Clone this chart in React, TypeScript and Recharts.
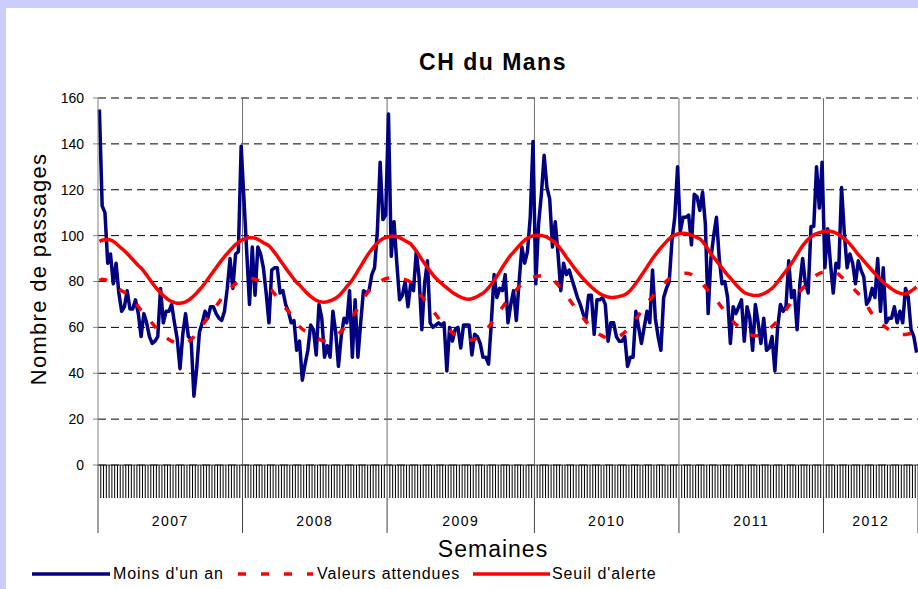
import React from "react";
import { LineChart, Line, XAxis, YAxis, CartesianGrid, ReferenceLine, Legend } from "recharts";

const FONT = "'Liberation Sans', Arial, Helvetica, sans-serif";

const YEARS = ["2007", "2008", "2009", "2010", "2011", "2012"];
const WEEKS_PER_YEAR = [52, 52, 53, 52, 52, 34];
const Y_TICKS = [0, 20, 40, 60, 80, 100, 120, 140, 160];

// Moins d'un an (passages hebdomadaires)
const MOINS_2007 = [155, 113, 110, 88, 92, 79, 88, 75, 67, 69, 76, 68, 68, 72, 66, 56, 66, 62, 56, 53, 54, 56, 77, 62, 67, 67, 70, 62, 55, 42, 57, 66, 56, 55, 30, 42, 58, 62, 67, 64, 69, 69, 66, 64, 63, 67, 77, 90, 77, 92, 93, 139];
const MOINS_2008 = [116, 93, 70, 95, 74, 95, 92, 86, 75, 62, 85, 86, 86, 75, 76, 70, 67, 62, 63, 50, 54, 37, 44, 50, 61, 59, 48, 70, 64, 47, 52, 47, 67, 58, 43, 56, 64, 62, 76, 47, 72, 47, 62, 76, 75, 76, 83, 86, 102, 132, 107, 109];
const MOINS_2009 = [153, 91, 106, 88, 72, 74, 80, 69, 79, 76, 93, 82, 59, 79, 89, 62, 60, 61, 62, 61, 62, 41, 60, 54, 59, 60, 51, 61, 61, 61, 48, 57, 56, 53, 47, 47, 44, 62, 83, 73, 77, 76, 83, 62, 70, 76, 63, 80, 95, 88, 93, 108, 141];
const MOINS_2010 = [79, 105, 118, 135, 121, 116, 95, 106, 92, 76, 88, 83, 85, 81, 77, 73, 70, 66, 63, 74, 74, 57, 72, 72, 73, 70, 54, 62, 62, 56, 54, 54, 56, 43, 47, 47, 67, 60, 53, 60, 67, 62, 85, 64, 56, 50, 73, 77, 80, 98, 108, 130];
const MOINS_2011 = [102, 108, 108, 109, 96, 118, 117, 111, 119, 105, 66, 90, 100, 108, 90, 79, 80, 73, 53, 69, 66, 69, 72, 54, 69, 64, 50, 70, 62, 53, 64, 50, 51, 56, 41, 60, 70, 67, 69, 89, 73, 76, 59, 79, 90, 79, 75, 104, 104, 130, 112, 132];
const MOINS_2012 = [86, 103, 88, 75, 88, 86, 121, 101, 86, 92, 88, 79, 89, 85, 82, 70, 72, 77, 73, 90, 67, 86, 62, 64, 64, 69, 62, 67, 62, 77, 73, 59, 56, 49];

// Valeurs attendues
const ATT_2007 = [80.5, 81, 80.8, 80.2, 79.5, 78.6, 77.7, 76.8, 76, 75.3, 74.5, 73.4, 72, 70.5, 69, 67.5, 66.2, 64.8, 63.3, 61.8, 60.3, 58.8, 57.5, 56.4, 55.5, 54.7, 54, 53.5, 53.1, 52.9, 52.9, 53.2, 53.8, 54.7, 55.9, 57.4, 59.2, 60.9, 62.5, 64.1, 65.8, 67.5, 69.3, 71, 72.7, 74.3, 75.7, 77, 78.1, 79, 79.8, 80.3];
const ATT_2008 = [80.8, 81.2, 81.4, 81.3, 81, 80.5, 79.8, 79.1, 78.4, 77.5, 76.2, 74.6, 72.9, 71.2, 69.8, 68.4, 67, 65.4, 63.7, 62, 60.4, 59.2, 58.4, 57.8, 57.1, 56.4, 55.6, 54.9, 54.4, 54.2, 54.3, 54.7, 55.3, 56.1, 57.1, 58.3, 59.6, 61, 62.6, 64.4, 66.4, 68.5, 70.6, 72.6, 74.4, 76, 77.3, 78.4, 79.3, 80.1, 80.7, 81.2];
const ATT_2009 = [81.5, 81.7, 81.8, 81.7, 81.5, 81.2, 80.8, 80.4, 79.6, 78.3, 76.8, 75.2, 73.5, 71.8, 70.3, 68.8, 67.2, 65.6, 64, 62.4, 61, 59.8, 58.7, 57.7, 56.8, 56, 55.3, 54.8, 54.5, 54.4, 54.5, 54.9, 55.5, 56.3, 57.4, 58.7, 60.1, 61.7, 63.4, 65.2, 67, 68.8, 70.5, 72, 73.4, 74.9, 76.4, 77.8, 79, 80, 80.8, 81.4, 81.9];
const ATT_2010 = [82.2, 82.4, 82.5, 82.4, 82.2, 81.7, 81, 79.9, 78.6, 77.1, 75.6, 74, 72.3, 70.6, 69, 67.4, 65.8, 64.2, 62.6, 61.2, 59.9, 58.8, 57.8, 56.9, 56.2, 55.6, 55.2, 55, 55.1, 55.5, 56.1, 56.9, 57.9, 59.1, 60.5, 62, 63.6, 65.3, 67.1, 68.9, 70.6, 72.1, 73.5, 74.9, 76.3, 77.7, 79, 80.2, 81.2, 82, 82.6, 83];
const ATT_2011 = [83.3, 83.5, 83.6, 83.5, 83, 82.2, 81.3, 80.2, 78.9, 77.5, 76.1, 74.7, 73.3, 71.8, 70.2, 68.6, 67, 65.4, 63.9, 62.5, 61.3, 60.2, 59.2, 58.3, 57.5, 56.9, 56.5, 56.3, 56.4, 56.8, 57.5, 58.3, 59.3, 60.4, 61.6, 62.9, 64.4, 66, 67.7, 69.4, 71, 72.6, 74.1, 75.6, 77, 78.4, 79.7, 80.9, 81.9, 82.8, 83.5, 84];
const ATT_2012 = [84.3, 84.5, 84.5, 84.3, 83.9, 83.1, 82, 80.8, 79.6, 78.4, 77.2, 76, 74.8, 73.4, 71.7, 69.8, 67.8, 65.8, 64.2, 62.9, 61.8, 60.8, 59.9, 59.1, 58.4, 57.8, 57.3, 57, 56.9, 56.9, 57.1, 57.5, 58, 58.6];

// Seuil d'alerte
const SEUIL_2007 = [97.5, 98, 98.2, 98.3, 98.1, 97.5, 96.6, 95.5, 94.4, 93.4, 92.2, 90.9, 89.6, 88.3, 87, 85.9, 84.4, 82.8, 81.1, 79.4, 77.8, 76.4, 75.1, 73.9, 72.8, 71.9, 71.3, 70.8, 70.5, 70.5, 70.7, 71.1, 71.8, 72.7, 73.8, 75, 76.4, 77.8, 79.3, 81, 82.7, 84.4, 86, 87.7, 89.3, 90.8, 92.2, 93.6, 94.9, 96.1, 97.1, 97.9];
const SEUIL_2008 = [98.5, 98.9, 99.1, 99.1, 98.9, 98.4, 97.7, 96.9, 96.3, 95.6, 94.2, 92.7, 91.1, 89.3, 87.6, 85.9, 84.2, 82.6, 81, 79.5, 78.5, 77.1, 75.8, 74.6, 73.5, 72.6, 71.8, 71.3, 71.1, 71, 71.2, 71.6, 72.1, 72.7, 73.6, 74.8, 76.2, 77.8, 79.2, 80.7, 82.6, 84.6, 86.6, 88.6, 90.6, 92.4, 94, 95.5, 96.8, 97.9, 98.7, 99.2];
const SEUIL_2009 = [99.5, 99.7, 99.7, 99.5, 99.1, 98.5, 97.8, 97.1, 96.4, 94.9, 93.3, 91.5, 89.6, 87.8, 86.1, 84.5, 82.9, 81.5, 80.3, 79.3, 78.2, 77.2, 76.2, 75.2, 74.5, 73.8, 73.2, 72.7, 72.4, 72.3, 72.5, 72.9, 73.5, 74.2, 74.9, 76, 77.3, 78.8, 80.5, 82.2, 84.2, 86.2, 88.1, 89.9, 91.5, 92.8, 94.2, 95.6, 96.9, 98, 98.9, 99.5, 99.9];
const SEUIL_2010 = [100.1, 100.2, 100.1, 99.8, 99.3, 98.6, 97.8, 96.9, 95.6, 94.1, 92.4, 90.6, 89, 87.3, 85.7, 84.2, 82.7, 81.3, 80, 78.8, 77.6, 76.6, 75.6, 74.7, 74.1, 73.6, 73.2, 73, 73, 73.2, 73.5, 73.8, 74.2, 75, 76.1, 77.6, 79.2, 80.9, 82.7, 84.5, 86.3, 88.2, 90, 91.6, 93.2, 94.7, 96.1, 97.4, 98.6, 99.6, 100.3, 100.7];
const SEUIL_2011 = [100.9, 101, 100.9, 100.6, 100.2, 99.7, 99.2, 98.6, 97.4, 95.9, 94, 92.1, 90.5, 89, 87.4, 85.9, 84.3, 82.8, 81.5, 80.1, 78.7, 77.4, 76.2, 75.2, 74.7, 74.3, 74, 73.9, 73.9, 74.2, 74.7, 75.3, 76.1, 77, 78.3, 79.8, 81.4, 83, 84.6, 86.1, 87.9, 89.8, 91.8, 93.8, 95.6, 97.1, 98.4, 99.5, 100.3, 100.9, 101.3, 101.6];
const SEUIL_2012 = [101.8, 101.9, 101.9, 101.6, 101.1, 100.4, 99.5, 98.6, 97.6, 96.3, 94.9, 93.3, 91.7, 90.4, 89, 87.6, 86.2, 84.8, 83.5, 82.2, 80.9, 79.7, 78.6, 77.7, 76.8, 76, 75.3, 74.9, 74.6, 74.7, 75.1, 75.8, 76.7, 77.6];

const MOINS = [...MOINS_2007, ...MOINS_2008, ...MOINS_2009, ...MOINS_2010, ...MOINS_2011, ...MOINS_2012];
const ATTENDUES = [...ATT_2007, ...ATT_2008, ...ATT_2009, ...ATT_2010, ...ATT_2011, ...ATT_2012];
const SEUIL = [...SEUIL_2007, ...SEUIL_2008, ...SEUIL_2009, ...SEUIL_2010, ...SEUIL_2011, ...SEUIL_2012];

const YEAR_STARTS = WEEKS_PER_YEAR.reduce<number[]>((acc, n) => [...acc, acc[acc.length - 1] + n], [0]);
const YEAR_MIDS = YEARS.map((_, i) => (YEAR_STARTS[i] + YEAR_STARTS[i + 1]) / 2);
const TOTAL_WEEKS = YEAR_STARTS[YEAR_STARTS.length - 1];
const WEEK_TICKS = Array.from({ length: TOTAL_WEEKS + 1 }, (_, i) => i);

const WEEK_LABELS = YEARS.flatMap((y, i) =>
  Array.from({ length: WEEKS_PER_YEAR[i] }, (_, k) => `${y}-S${String(k + 1).padStart(2, "0")}`)
);

const data = WEEK_LABELS.map((semaine, i) => ({
  x: i + 0.5,
  semaine,
  moins: MOINS[i],
  attendues: ATTENDUES[i],
  seuil: SEUIL[i],
}));

const LEGEND_ITEMS = [
  { label: "Moins d'un an", color: "#000080", dash: undefined, lineX: 32, lineW: 78, textX: 113 },
  { label: "Valeurs attendues", color: "#FF0000", dash: "8 15", lineX: 238, lineW: 75, textX: 317 },
  { label: "Seuil d'alerte", color: "#FF0000", dash: undefined, lineX: 473, lineW: 77, textX: 552 },
];

function renderWeekTick(props: any) {
  const { x, y, payload } = props;
  const isYear = YEAR_STARTS.includes(payload.value);
  return (
    <line
      x1={x}
      x2={x}
      y1={y}
      y2={y + (isYear ? 68 : 33)}
      stroke={isYear ? "#404040" : "#000"}
      strokeWidth={1}
    />
  );
}

function renderYearTick(props: any) {
  const { x, y, payload } = props;
  const i = YEAR_MIDS.indexOf(payload.value);
  return (
    <text x={x} y={y + 28} textAnchor="middle" fontSize={14} letterSpacing={1.5} fontFamily={FONT} fill="#000">
      {YEARS[i]}
    </text>
  );
}

function renderLegend() {
  return (
    <div style={{ position: "relative", width: 918, height: 26, fontFamily: FONT, fontSize: 16, color: "#000" }}>
      {LEGEND_ITEMS.map((it) => (
        <React.Fragment key={it.label}>
          <svg style={{ position: "absolute", left: it.lineX, top: 9 }} width={it.lineW} height={6}>
            <line x1={0} x2={it.lineW} y1={3} y2={3} stroke={it.color} strokeWidth={3.5} strokeDasharray={it.dash} />
          </svg>
          <span style={{ position: "absolute", left: it.textX, top: 3, lineHeight: "18px", letterSpacing: 0.9, whiteSpace: "nowrap" }}>
            {it.label}
          </span>
        </React.Fragment>
      ))}
    </div>
  );
}

export default function App() {
  return (
    <div style={{ position: "absolute", left: 0, top: 0, width: 918, height: 589, overflow: "hidden", background: "#CCCCFF", fontFamily: FONT }}>
      <div style={{ position: "absolute", left: 6, top: 8, width: 960, height: 620, background: "#FFFFFF" }} />
      <div style={{ position: "absolute", left: 0, top: 0 }}>
        <LineChart width={918} height={589} data={data} margin={{ top: 98, right: 0, bottom: 0, left: 28 }}>
          <CartesianGrid xAxisId="weeks" vertical={false} stroke="#000" strokeDasharray="8 5" />
          <XAxis
            xAxisId="weeks"
            type="number"
            dataKey="x"
            domain={[0, TOTAL_WEEKS]}
            ticks={WEEK_TICKS}
            interval={0}
            height={33}
            tickSize={0}
            tickMargin={0}
            tickLine={false}
            axisLine={{ stroke: "#404040" }}
            tick={renderWeekTick}
          />
          <XAxis
            xAxisId="years"
            type="number"
            dataKey="x"
            domain={[0, TOTAL_WEEKS]}
            ticks={YEAR_MIDS}
            interval={0}
            height={91}
            tickSize={0}
            tickMargin={0}
            tickLine={false}
            axisLine={false}
            tick={renderYearTick}
          />
          <YAxis
            type="number"
            domain={[0, 160]}
            ticks={Y_TICKS}
            interval={0}
            width={70}
            tickSize={5}
            tickMargin={9}
            axisLine={{ stroke: "#808080" }}
            tickLine={{ stroke: "#808080" }}
            tick={{ fill: "#000", fontSize: 14, fontFamily: FONT }}
          />
          {YEAR_STARTS.slice(1, -1).map((s) => (
            <ReferenceLine key={s} xAxisId="weeks" x={s} stroke="#707070" strokeWidth={1} />
          ))}
          <Line
            xAxisId="weeks"
            type="linear"
            dataKey="moins"
            name="Moins d'un an"
            stroke="#000080"
            strokeWidth={3.5}
            strokeLinejoin="round"
            dot={false}
            isAnimationActive={false}
          />
          <Line
            xAxisId="weeks"
            type="linear"
            dataKey="attendues"
            name="Valeurs attendues"
            stroke="#FF0000"
            strokeWidth={3.5}
            strokeDasharray="8 15"
            dot={false}
            isAnimationActive={false}
          />
          <Line
            xAxisId="weeks"
            type="linear"
            dataKey="seuil"
            name="Seuil d'alerte"
            stroke="#FF0000"
            strokeWidth={3.5}
            strokeLinejoin="round"
            dot={false}
            isAnimationActive={false}
          />
          <Legend
            layout="horizontal"
            verticalAlign="middle"
            align="center"
            wrapperStyle={{ left: 0, top: 562, width: 918, height: 26 }}
            content={renderLegend}
          />
        </LineChart>
      </div>
      <svg style={{ position: "absolute", left: 0, top: 0, pointerEvents: "none" }} width={918} height={589}>
        <text x={493} y={70} textAnchor="middle" fontWeight="bold" fontSize={23} letterSpacing={1.5} fontFamily={FONT}>
          CH du Mans
        </text>
        <text transform="translate(46,269) rotate(-90)" textAnchor="middle" fontSize={22} letterSpacing={1.3} fontFamily={FONT}>
          Nombre de passages
        </text>
        <text x={493} y={557} textAnchor="middle" fontSize={23} letterSpacing={1} fontFamily={FONT}>
          Semaines
        </text>
      </svg>
    </div>
  );
}
